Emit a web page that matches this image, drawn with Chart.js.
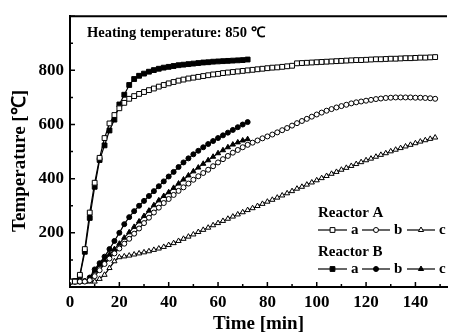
<!DOCTYPE html>
<html>
<head>
<meta charset="utf-8">
<script src="https://cdn.jsdelivr.net/npm/chart.js@4.4.0/dist/chart.umd.min.js"></script>
<style>
  html, body { margin: 0; padding: 0; background: #fff; }
  #wrap { width: 452px; height: 335px; position: relative; }
</style>
</head>
<body>
<div id="wrap"><canvas id="chartContainer"></canvas></div>
<script>
// time axis (min)
const timeA = [0,2,4,6,8,10,12,14,16,18,20,22,24,26,28,30,32,34,36,38,
  40,42,44,46,48,50,52,54,56,58,60,62,64,66,68,70,72,74,76,78,
  80,82,84,86,88,90,92,94,96,98,100,102,104,106,108,110,112,114,116,118,
  120,122,124,126,128,130,132,134,136,138,140,142,144,146,148];
const timeB = [0,2,4,6,8,10,12,14,16,18,20,22,24,26,28,30,32,34,36,38,
  40,42,44,46,48,50,52,54,56,58,60,62,64,66,68,70,72];

// Reactor A (open markers)
const reactorA_a = [20,20,45,140,275,385,477,550,604,635,
  660,680,695,705,713,720,727,733,740,746,
  752,757,762,766,770,773,776,779,782,785,
  787,790,792,794,796,798,800,802,804,806,
  808,810,811,813,815,817,826,827,828,829,
  830,831,832,833,834,835,836,837,838,838,
  839,840,841,841,842,843,843,844,845,845,
  846,847,847,848,849];
const reactorA_b = [20,20,20,20,25,40,62,85,105,124,
  142,160,178,197,216,236,256,275,293,310,
  325,340,355,368,382,396,409,421,433,446,
  460,472,484,496,506,516,525,533,541,549,
  556,563,571,579,587,596,605,613,621,629,
  637,644,651,657,663,668,673,678,682,685,
  688,691,694,696,698,699,700,700,700,700,
  699,699,698,697,695];
const reactorA_c = [20,20,20,20,20,20,30,45,70,95,
  110,113,116,120,124,128,132,137,142,148,
  155,162,170,178,186,194,203,211,219,228,
  236,244,252,260,268,276,284,291,299,307,
  315,322,330,338,346,354,363,370,378,386,
  394,402,410,418,425,433,440,447,454,461,
  468,474,481,488,494,501,507,513,519,525,
  531,537,542,547,552];

// Reactor B (filled markers)
const reactorB_a = [20,22,40,130,255,370,469,523,578,618,
  674,710,746,768,780,788,795,801,806,810,
  813,816,819,821,823,825,827,829,830,832,
  833,834,835,836,837,838,840];
const reactorB_b = [20,20,20,22,35,65,88,112,140,170,
  200,232,258,280,300,318,336,354,372,390,
  408,425,443,460,475,490,503,516,528,539,
  550,560,570,580,590,600,609];
const reactorB_c = [20,20,20,20,30,60,82,100,120,140,
  160,182,202,222,242,262,282,302,320,336,
  350,366,382,397,412,427,441,455,468,481,
  494,505,516,526,534,541,546];

const yLabels = [200, 400, 600, 800];
const xLabels = [0, 20, 40, 60, 80, 100, 120, 140];

const SERIF = '"Liberation Serif", "Times New Roman", serif';

function pts(t, v) {
  return t.map((x, i) => ({ x: x, y: v[i] }));
}
function ds(label, t, v, style, filled, r) {
  return {
    label: label,
    data: pts(t, v),
    borderColor: '#000',
    borderWidth: 1.2,
    pointStyle: style,
    pointRadius: r,
    pointBorderWidth: 1,
    pointBorderColor: '#000',
    pointBackgroundColor: filled ? '#000' : '#fff',
    tension: 0,
    fill: false
  };
}

const datasets = [
  ds('A a', timeA, reactorA_a, 'rect', false, 3.4),
  ds('A b', timeA, reactorA_b, 'circle', false, 2.5),
  ds('A c', timeA, reactorA_c, 'triangle', false, 3),
  ds('B a', timeB, reactorB_a, 'rect', true, 3.4),
  ds('B b', timeB, reactorB_b, 'circle', true, 2.5),
  ds('B c', timeB, reactorB_c, 'triangle', true, 3)
];

// inward ticks, top frame line, y title, note and legend
const decor = {
  id: 'decor',
  afterDatasetsDraw(chart) {
    const ctx = chart.ctx;
    const ca = chart.chartArea;
    const xs = chart.scales.x, ys = chart.scales.y;
    ctx.save();
    ctx.strokeStyle = '#000';
    ctx.lineWidth = 1.5;
    ctx.beginPath();
    for (let v = 0; v <= 150; v += 10) {
      const px = xs.getPixelForValue(v);
      const len = v % 20 === 0 ? 5 : 3;
      ctx.moveTo(px, ca.bottom);
      ctx.lineTo(px, ca.bottom - len);
    }
    for (let v = 0; v <= 1000; v += 100) {
      const py = ys.getPixelForValue(v);
      const len = v % 200 === 0 ? 5 : 3;
      ctx.moveTo(ca.left, py);
      ctx.lineTo(ca.left + len, py);
    }
    ctx.stroke();
    // top frame
    ctx.lineWidth = 2;
    ctx.beginPath();
    ctx.moveTo(ca.left - 1, ca.top);
    ctx.lineTo(ca.right, ca.top);
    ctx.stroke();

    ctx.fillStyle = '#000';
    // y axis title, sits a little below the middle in the original
    ctx.save();
    ctx.translate(20, 161);
    ctx.rotate(-Math.PI / 2);
    ctx.font = 'bold 19px ' + SERIF;
    ctx.textAlign = 'center';
    ctx.textBaseline = 'middle';
    ctx.fillText('Temperature [\u2103]', 0, 0);
    ctx.restore();

    ctx.font = 'bold 14.5px ' + SERIF;
    ctx.textAlign = 'left';
    ctx.textBaseline = 'middle';
    ctx.fillText('Heating temperature: 850 \u2103', 87, 33);

    // legend
    ctx.font = 'bold 15px ' + SERIF;
    ctx.fillText('Reactor A', 318, 213);
    ctx.fillText('Reactor B', 318, 252);
    const rows = [[0, 1, 2, 230], [3, 4, 5, 269]];
    const cols = [[318, 347, 'a'], [362, 390, 'b'], [407, 435, 'c']];
    rows.forEach(row => {
      const y = row[3];
      for (let k = 0; k < 3; k++) {
        const d = chart.data.datasets[row[k]];
        const c = cols[k];
        ctx.lineWidth = 1.2;
        ctx.strokeStyle = '#000';
        ctx.beginPath();
        ctx.moveTo(c[0], y);
        ctx.lineTo(c[1], y);
        ctx.stroke();
        ctx.fillStyle = d.pointBackgroundColor;
        ctx.lineWidth = 1;
        Chart.helpers.drawPoint(ctx, {
          pointStyle: d.pointStyle, radius: d.pointRadius, rotation: 0, borderWidth: 1
        }, (c[0] + c[1]) / 2, y);
        ctx.fillStyle = '#000';
        ctx.fillText(c[2], c[1] + 4, y);
      }
    });
    ctx.restore();
  }
};

window.onload = function () {
  const config = {
    type: 'line',
    data: { datasets: datasets },
    options: {
      responsive: true,
      maintainAspectRatio: false,
      devicePixelRatio: 1,
      animation: false,
      layout: { padding: { top: 12, right: 0, left: 0, bottom: 0 } },
      plugins: { legend: { display: false }, tooltip: { enabled: false } },
      scales: {
        x: {
          type: 'linear',
          min: 0,
          max: 152.8,
          grid: { display: false, drawTicks: false },
          border: { display: true, color: '#000', width: 2 },
          ticks: {
            stepSize: 20,
            includeBounds: false,
            padding: 5,
            color: '#000',
            font: { family: SERIF, size: 17, weight: 'bold' },
            maxRotation: 0,
            callback: v => xLabels.includes(v) ? String(v) : ''
          },
          title: {
            display: true,
            text: 'Time [min]',
            color: '#000',
            font: { family: SERIF, size: 19, weight: 'bold' },
            padding: { top: 0, bottom: 0 }
          },
          afterFit: s => { s.height = 48; }
        },
        y: {
          min: 0,
          max: 1000,
          grid: { display: false, drawTicks: false },
          border: { display: true, color: '#000', width: 2 },
          ticks: {
            stepSize: 100,
            padding: 6,
            color: '#000',
            font: { family: SERIF, size: 17, weight: 'bold' },
            callback: v => yLabels.includes(v) ? String(v) : ''
          },
          title: { display: false },
          afterFit: s => { s.width = 70; }
        }
      }
    },
    plugins: [decor]
  };
  new Chart(document.getElementById('chartContainer'), config);
};
</script>
</body>
</html>
